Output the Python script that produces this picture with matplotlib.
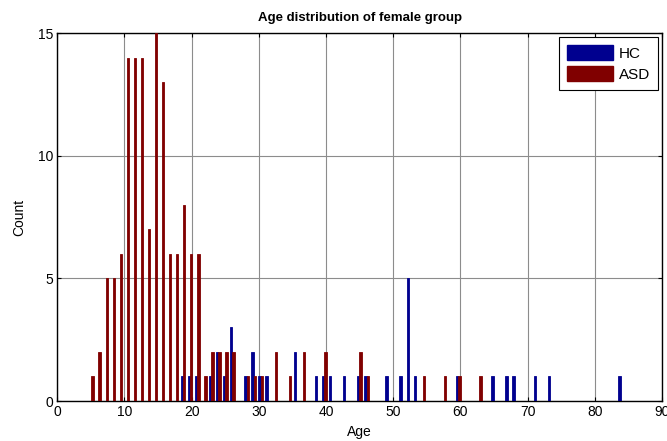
import numpy as np
import matplotlib
matplotlib.use('Agg')
import matplotlib.pyplot as plt
from matplotlib.patches import Patch
from matplotlib import rcParams

rcParams['font.family'] = ['Liberation Sans', 'DejaVu Sans']
rcParams['font.size'] = 10

hc_color = '#00008f'
asd_color = '#800000'

# Histogram bins: 80 equal bins over the pooled age range.
age_lo = 0.35
age_hi = 84.35
n_bins = 80

# Counts per bin (bin 0 .. bin 79).
hc_counts = [0, 0, 0, 0, 0, 0, 0, 0, 0, 0,
             0, 0, 0, 0, 0, 0, 0, 1, 1, 1,
             0, 1, 2, 1, 3, 0, 1, 2, 1, 1,
             0, 0, 0, 2, 0, 0, 1, 1, 1, 0,
             1, 0, 1, 1, 0, 0, 1, 0, 1, 5,
             1, 0, 0, 0, 0, 0, 1, 0, 0, 0,
             0, 1, 0, 1, 1, 0, 0, 1, 0, 1,
             0, 0, 0, 0, 0, 0, 0, 0, 0, 1]
asd_counts = [0, 0, 0, 0, 1, 2, 5, 5, 6, 14,
              14, 14, 7, 15, 13, 6, 6, 8, 6, 6,
              1, 2, 2, 2, 2, 0, 1, 1, 1, 0,
              2, 0, 1, 0, 2, 0, 0, 2, 0, 0,
              0, 0, 2, 1, 0, 0, 0, 0, 0, 0,
              0, 1, 0, 0, 1, 0, 1, 0, 0, 1,
              0, 0, 0, 0, 0, 0, 0, 0, 0, 0,
              0, 0, 0, 0, 0, 0, 0, 0, 0, 0]

bin_width = (age_hi - age_lo) / n_bins
centers = age_lo + (np.arange(n_bins) + 0.5) * bin_width

fig = plt.figure(figsize=(6.67, 4.41), dpi=100)
ax = fig.add_axes([0.0859, 0.0907, 0.9066, 0.8344])

# Grouped bars: HC on the left of each bin, ASD on the right.
w = 0.33 * bin_width
ax.bar(centers - w / 2, hc_counts, width=w, color=hc_color,
       edgecolor=hc_color, linewidth=0.6, zorder=3)
ax.bar(centers + w / 2, asd_counts, width=w, color=asd_color,
       edgecolor=asd_color, linewidth=0.6, zorder=3)

ax.set_xlim(0, 90)
ax.set_ylim(0, 15)
ax.set_xticks(range(0, 91, 10))
ax.set_yticks([0, 5, 10, 15])
ax.grid(True, color='#8c8c8c', linewidth=0.8)
ax.set_axisbelow(True)
ax.tick_params(direction='in', top=True, right=True, length=3,
               width=0.8, labelsize=10, pad=3)
for spine in ax.spines.values():
    spine.set_color('black')
    spine.set_linewidth(1.0)

ax.set_title('Age distribution of female group', fontsize=9.5,
             fontweight='bold', pad=9)
ax.set_xlabel('Age', fontsize=10, labelpad=4)
ax.set_ylabel('Count', fontsize=10, labelpad=8)

leg = ax.legend([Patch(facecolor=hc_color, edgecolor=hc_color),
                 Patch(facecolor=asd_color, edgecolor=asd_color)],
                ['HC', 'ASD'], loc='upper right', fontsize=11,
                fancybox=False, framealpha=1, edgecolor='black',
                handlelength=3.0, handleheight=1.1, handletextpad=0.35,
                borderpad=0.55, labelspacing=0.35, borderaxespad=0.25)
leg.get_frame().set_linewidth(0.8)

fig.savefig('out.png', dpi=100)
